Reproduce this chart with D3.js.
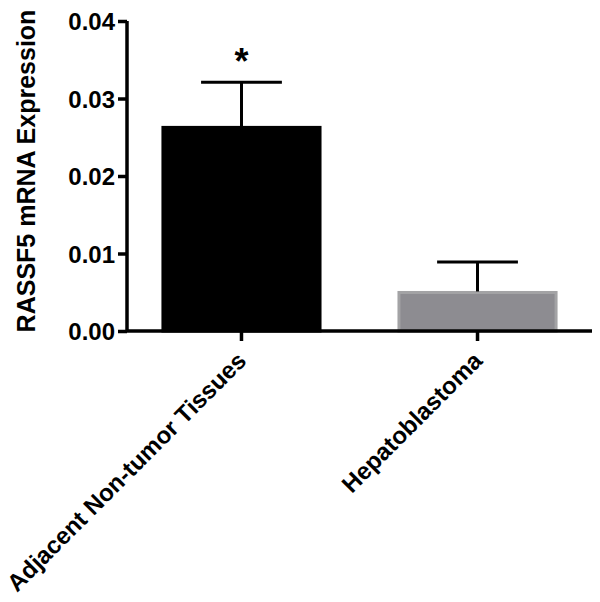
<!DOCTYPE html>
<html>
<head>
<meta charset="utf-8">
<script src="https://cdn.jsdelivr.net/npm/d3@7"></script>
<style>
  body { margin: 0; background: #fff; }
  svg text { font-family: "Liberation Sans", Arial, Helvetica, sans-serif; font-weight: bold; fill: #000; }
</style>
</head>
<body>
<svg id="viz" width="600" height="602"></svg>
<script>
const svg = d3.select("#viz");

// data
const groups = ["Adjacent Non-tumor Tissues", "Hepatoblastoma"];
const means = [0.0264, 0.0051];
const errors = [0.0057, 0.0038];
const yTicks = [0, 0.01, 0.02, 0.03, 0.04];
const significance = ["*", ""];

// layout
const x0 = 127, x1 = 592, yTop = 21, yBottom = 331;

const x = d3.scaleBand()
  .domain(groups)
  .range([x0, x1])
  .paddingInner(0.326)
  .paddingOuter(0.148);

const y = d3.scaleLinear()
  .domain([0, 0.04])
  .range([yBottom, yTop]);

const fills = ["#000000", "#8d8c91"];
const strokes = ["#000000", "#a3a3a5"];

// bars
svg.append("g").selectAll("rect")
  .data(groups)
  .enter().append("rect")
  .attr("x", (d) => x(d) + 1)
  .attr("y", (d, i) => y(means[i]) + 1)
  .attr("width", x.bandwidth() - 2)
  .attr("height", (d, i) => yBottom - y(means[i]) - 1)
  .attr("fill", (d, i) => fills[i])
  .attr("stroke", (d, i) => strokes[i])
  .attr("stroke-width", 3);

// error bars (upper only)
const eb = svg.append("g").attr("stroke", "#000").attr("stroke-width", 3);
groups.forEach((g, i) => {
  const cx = x(g) + x.bandwidth() / 2;
  const capHalf = x.bandwidth() * 0.254;
  eb.append("line")
    .attr("x1", cx).attr("x2", cx)
    .attr("y1", y(means[i])).attr("y2", y(means[i] + errors[i]));
  eb.append("line")
    .attr("x1", cx - capHalf).attr("x2", cx + capHalf)
    .attr("y1", y(means[i] + errors[i])).attr("y2", y(means[i] + errors[i]));
  if (significance[i]) {
    svg.append("text")
      .attr("x", cx)
      .attr("y", y(means[i] + errors[i]) - 8)
      .attr("text-anchor", "middle")
      .style("font-size", "36px")
      .text(significance[i]);
  }
});

// y axis
const yAxis = svg.append("g")
  .attr("transform", `translate(${x0},0)`)
  .call(d3.axisLeft(y).tickValues(yTicks).tickFormat(d3.format(".2f")).tickSize(9).tickPadding(3));
yAxis.select(".domain").attr("stroke-width", 3.5).attr("d", `M0,${yTop}V${yBottom}`);
yAxis.selectAll(".tick line").attr("stroke-width", 3.5);
yAxis.selectAll(".tick text").style("font-size", "24px").attr("dy", "0.36em");

// x axis
const xAxis = svg.append("g")
  .attr("transform", `translate(0,${yBottom})`)
  .call(d3.axisBottom(x).tickSize(10).tickPadding(6));
xAxis.select(".domain").attr("stroke-width", 3.5).attr("d", `M${x0},0H${x1}`);
xAxis.selectAll(".tick line").attr("stroke-width", 3.5);
xAxis.selectAll(".tick text")
  .style("font-size", "24px")
  .attr("text-anchor", "end")
  .attr("dy", "0.35em")
  .attr("transform", "translate(-11,14) rotate(-45)");

// y label
svg.append("text")
  .attr("transform", `translate(35,${(yTop + yBottom) / 2 - 5}) rotate(-90)`)
  .attr("text-anchor", "middle")
  .style("font-size", "25px")
  .text("RASSF5 mRNA Expression");
</script>
</body>
</html>
